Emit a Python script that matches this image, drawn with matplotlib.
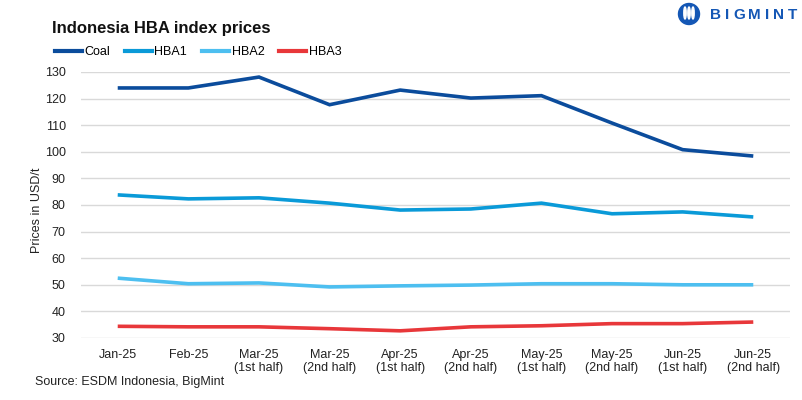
import matplotlib
matplotlib.use("Agg")
import matplotlib.pyplot as plt
from matplotlib.lines import Line2D
from matplotlib.patches import Ellipse

categories = ["Jan-25", "Feb-25", "Mar-25\n(1st half)", "Mar-25\n(2nd half)", "Apr-25\n(1st half)",
              "Apr-25\n(2nd half)", "May-25\n(1st half)", "May-25\n(2nd half)", "Jun-25\n(1st half)",
              "Jun-25\n(2nd half)"]
coal = [124.0, 124.0, 128.1, 117.7, 123.2, 120.2, 121.1, 110.8, 100.8, 98.4]
hba1 = [83.8, 82.3, 82.7, 80.7, 78.1, 78.5, 80.7, 76.7, 77.4, 75.5]
hba2 = [52.5, 50.4, 50.7, 49.2, 49.6, 49.9, 50.4, 50.4, 50.0, 50.0]
hba3 = [34.4, 34.2, 34.2, 33.5, 32.7, 34.2, 34.6, 35.4, 35.4, 36.0]
series_names = ["Coal", "HBA1", "HBA2", "HBA3"]
y_ticks = [30, 40, 50, 60, 70, 80, 90, 100, 110, 120, 130]

colors = ["#0B4C9C", "#0A9AD8", "#4DBFF0", "#E8373A"]

plt.rcParams['font.family'] = ['Liberation Sans', 'DejaVu Sans']
fig = plt.figure(figsize=(8.03, 4.0), dpi=100)
W, H = 803, 400
ax = fig.add_axes([81 / W, 1 - 338 / H, (790 - 81) / W, (338 - 72) / H])

x = list(range(len(categories)))
for vals, c in zip([coal, hba1, hba2, hba3], colors):
    ax.plot(x, vals, color=c, lw=2.6, solid_capstyle='butt', solid_joinstyle='miter')

ax.set_ylim(30, 130)
ax.set_xlim(-0.52, len(categories) - 0.48)
ax.set_yticks(y_ticks)
ax.set_yticklabels([str(v) for v in y_ticks], fontsize=9, color="#222222")
ax.set_xticks(x)
ax.set_xticklabels(categories, fontsize=9, color="#222222", linespacing=1.1)
ax.tick_params(axis='both', length=0)
ax.tick_params(axis='y', pad=11)
ax.tick_params(axis='x', pad=8)
ax.grid(axis='y', color="#D9D9D9", lw=1)
ax.set_axisbelow(True)
for s in ax.spines.values():
    s.set_visible(False)

fig.text(37 / W, 1 - 210 / H, "Prices in USD/t", rotation=90, ha='center', va='center',
         fontsize=9, color="#222222")

fig.text(52 / W, 1 - 28 / H, "Indonesia HBA index prices", fontsize=12, fontweight='bold',
         ha='left', va='center', color="#111111")

handles = [Line2D([0], [0], color=c, lw=3) for c in colors]
fig.legend(handles, series_names, loc='center left', bbox_to_anchor=(55 / W, 1 - 52 / H),
           ncol=4, frameon=False, fontsize=9, handlelength=2.15, handletextpad=0.2,
           columnspacing=1.2, borderpad=0, borderaxespad=0)

fig.text(35 / W, 1 - 382 / H, "Source: ESDM Indonesia, BigMint", fontsize=9,
         ha='left', va='center', color="#222222")

# logo
logo_color = "#1457B5"
for i, ch in enumerate("BIGMINT"):
    offs = [0, 15, 23, 38, 55, 63, 78][i]
    fig.text((710 + offs) / W, 1 - 15 / H, ch, fontsize=11, fontweight='bold', color=logo_color,
             ha='left', va='center')
fig.patches.append(Ellipse((689 / W, 1 - 14 / H), 21 / W, 21 / H, transform=fig.transFigure,
                           color=logo_color))
for dx in (-4, 0, 4):
    fig.patches.append(Ellipse(((689 + dx) / W, 1 - 13 / H), 2.4 / W, 12 / H,
                               transform=fig.transFigure, color="white"))

fig.savefig("out.png", dpi=100)
